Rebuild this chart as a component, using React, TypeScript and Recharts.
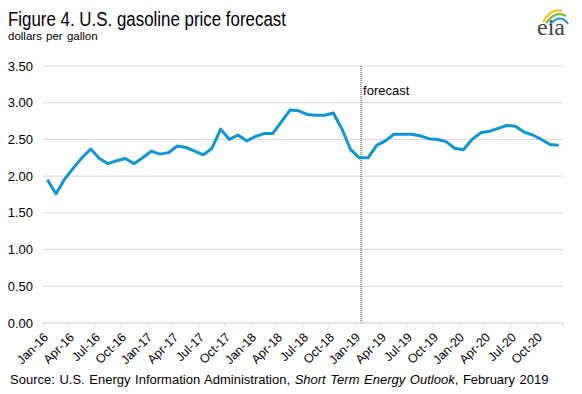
import { LineChart, Line, XAxis, YAxis, CartesianGrid, ReferenceLine } from 'recharts';

// monthly retail gasoline price, Jan-16 .. Dec-20 (forecast from Jan-19)
const prices = [
  1.95, 1.76, 1.96, 2.11, 2.25, 2.37,
  2.24, 2.17, 2.21, 2.24, 2.17, 2.25,
  2.34, 2.30, 2.32, 2.41, 2.39, 2.34,
  2.29, 2.38, 2.64, 2.50, 2.56, 2.48,
  2.54, 2.58, 2.58, 2.74, 2.90, 2.89,
  2.84, 2.83, 2.83, 2.86, 2.64, 2.36,
  2.25, 2.25, 2.42, 2.48, 2.57, 2.57,
  2.57, 2.55, 2.51, 2.50, 2.47, 2.38,
  2.36, 2.50, 2.59, 2.61, 2.65, 2.69,
  2.68, 2.60, 2.56, 2.50, 2.43, 2.42,
];

// one label every third month, starting at Jan-16
const tickLabels = [
  'Jan-16', 'Apr-16', 'Jul-16', 'Oct-16',
  'Jan-17', 'Apr-17', 'Jul-17', 'Oct-17',
  'Jan-18', 'Apr-18', 'Jul-18', 'Oct-18',
  'Jan-19', 'Apr-19', 'Jul-19', 'Oct-19',
  'Jan-20', 'Apr-20', 'Jul-20', 'Oct-20',
];

const yTicks = [0, 0.5, 1, 1.5, 2, 2.5, 3, 3.5];
const forecastStart = 36; // Jan-19

const FONT = '"Liberation Sans", Arial, sans-serif';
const BLUE = '#0f96d4';
const GRID = '#d9d9d9';

const data = prices.map((price, i) => ({ idx: i, price }));
// ticks sit on month boundaries
const xTicks = [...tickLabels.map((_, i) => i * 3 - 0.5), prices.length - 0.5];

function MonthTick(props: any) {
  const { x, y, payload } = props;
  const k = Math.round((payload.value + 0.5) / 3);
  const label = tickLabels[k] ?? '';
  return (
    <text
      x={0}
      y={0}
      transform={`translate(${x + 6},${y + 9}) rotate(-45)`}
      textAnchor="end"
      fontSize={12.5}
      fontFamily={FONT}
      fill="#000"
    >
      {label}
    </text>
  );
}

function ForecastLabel(props: any) {
  const { viewBox } = props;
  return (
    <text x={viewBox.x + 2} y={95} fontSize={13} fontFamily={FONT} fill="#000">
      forecast
    </text>
  );
}

export default function App() {
  return (
    <div style={{ position: 'absolute', left: 0, top: 0, width: 582, height: 394, background: '#fff' }}>
      <LineChart
        width={582}
        height={394}
        data={data}
        margin={{ top: 66, right: 19, left: 0, bottom: 21 }}
      >
        <CartesianGrid vertical={false} stroke={GRID} />
        <XAxis
          dataKey="idx"
          type="number"
          domain={[-0.5, prices.length - 0.5]}
          ticks={xTicks}
          interval={0}
          height={50}
          tick={<MonthTick />}
          tickSize={4}
          axisLine={{ stroke: GRID }}
          tickLine={{ stroke: GRID }}
        />
        <YAxis
          domain={[0, 3.5]}
          ticks={yTicks}
          width={43}
          axisLine={false}
          tickLine={false}
          tickMargin={4}
          tickFormatter={(v) => Number(v).toFixed(2)}
          tick={{ fontSize: 13, fontFamily: FONT, fill: '#000' }}
        />
        <ReferenceLine
          x={forecastStart + 0.2}
          stroke="#333"
          strokeDasharray="1 1"
          label={<ForecastLabel />}
        />
        <Line
          dataKey="price"
          stroke={BLUE}
          strokeWidth={3}
          dot={false}
          isAnimationActive={false}
          strokeLinejoin="round"
        />
      </LineChart>
      <svg
        width={582}
        height={394}
        style={{ position: 'absolute', left: 0, top: 0, pointerEvents: 'none' }}
      >
        <text
          x={0}
          y={0}
          transform="translate(8,26) scale(0.867,1)"
          fontSize={19.5}
          fontFamily={FONT}
          fill="#000"
        >
          Figure 4. U.S. gasoline price forecast
        </text>
        <text x={8} y={40} fontSize={11.5} fontFamily={FONT} fill="#000" wordSpacing={1}>
          dollars per gallon
        </text>
        <text x={10} y={384} fontSize={13} fontFamily={FONT} fill="#000" wordSpacing={1}>
          Source: U.S. Energy Information  Administration, <tspan fontStyle="italic">Short Term Energy Outlook</tspan>, February 2019
        </text>
        <path d="M543,22 Q551,8 562,11" stroke="#f2c21b" strokeWidth={2.2} fill="none" />
        <path d="M546,23 Q556,10 566,16" stroke="#7dba2f" strokeWidth={2.2} fill="none" />
        <path d="M550,24 Q561,13 568,24" stroke="#1e98d5" strokeWidth={2.2} fill="none" />
        <text x={537} y={35} fontSize={24} fontFamily='"Liberation Serif", "Times New Roman", serif' fill="#444">
          eia
        </text>
      </svg>
    </div>
  );
}
